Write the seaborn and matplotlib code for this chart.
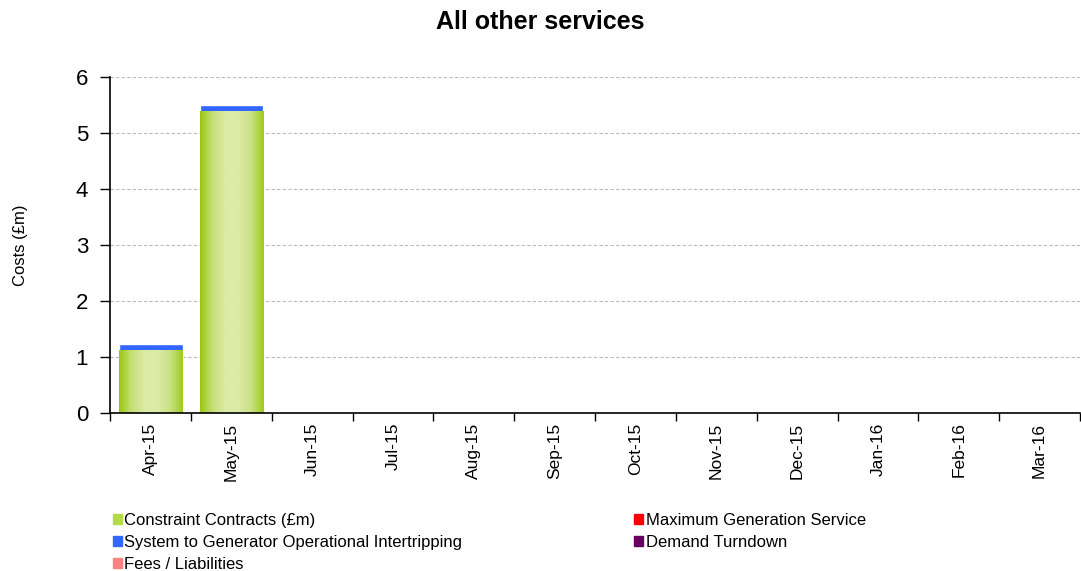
import numpy as np
import pandas as pd
import matplotlib
matplotlib.use("Agg")
import matplotlib.pyplot as plt
import matplotlib.patches as mpatches
from matplotlib.colors import LinearSegmentedColormap
import seaborn as sns

# Data
months = ["Apr-15", "May-15", "Jun-15", "Jul-15", "Aug-15", "Sep-15",
          "Oct-15", "Nov-15", "Dec-15", "Jan-16", "Feb-16", "Mar-16"]
constraint_contracts = [1.13, 5.39, 0, 0, 0, 0, 0, 0, 0, 0, 0, 0]
intertripping = [0.10, 0.11, 0, 0, 0, 0, 0, 0, 0, 0, 0, 0]
max_generation = [0] * 12
demand_turndown = [0] * 12
fees_liabilities = [0] * 12

df = pd.DataFrame({"month": months,
                   "constraint": constraint_contracts,
                   "intertrip": intertripping})
df["total"] = df["constraint"] + df["intertrip"]

#Setting styles
sns.set_style("white")
plt.rcParams["font.family"] = ["Liberation Sans", "DejaVu Sans"]
plt.rcParams["text.color"] = "black"
plt.rcParams["axes.labelcolor"] = "black"
plt.rcParams["xtick.color"] = "black"
plt.rcParams["ytick.color"] = "black"

fig = plt.figure(figsize=(10.81, 5.71), dpi=100)
ax = fig.add_axes([0.102, 0.277, 0.897, 0.588])

#Stacked bars: total (blue) underneath, constraint (green) on top
sns.barplot(data=df, x="month", y="total", color="#3366ff", saturation=1,
            width=0.79, ax=ax, order=months)
n_before = len(ax.patches)
sns.barplot(data=df, x="month", y="constraint", color="#9bc916", saturation=1,
            width=0.79, ax=ax, order=months)

#Gradient fill for the green bars
grad = LinearSegmentedColormap.from_list(
    "g", ["#97c70f", "#c6e07a", "#dceba6", "#dceba6", "#c9e184", "#9ccb1c"])
for p in ax.patches[n_before:]:
    h = p.get_height()
    if h <= 0:
        continue
    x0 = p.get_x()
    w = p.get_width()
    im = ax.imshow(np.linspace(0, 1, 256).reshape(1, -1), cmap=grad,
                   extent=[x0, x0 + w, 0, h], aspect="auto", zorder=p.get_zorder() + 0.1)
    im.set_clip_path(p)
    p.set_edgecolor("none")

ax.set_xlim(-0.5, 11.5)
ax.set_ylim(0, 6)
ax.set_yticks(range(0, 7))
ax.tick_params(axis="y", left=True, labelsize=16, length=7, width=1, direction="out", pad=9)
ax.tick_params(axis="x", which="major", bottom=True, labelsize=12.5, length=0, rotation=90, pad=7)
ax.set_xticks(np.arange(-0.5, 12, 1), minor=True)
ax.tick_params(axis="x", which="minor", bottom=True, length=6, width=1, direction="out")
ax.yaxis.grid(True, linestyle=(0, (3, 2)), color="#bbbbbb", linewidth=0.8)
ax.set_axisbelow(True)
for s in ["top", "right"]:
    ax.spines[s].set_visible(False)
for s in ["left", "bottom"]:
    ax.spines[s].set_color("black")
    ax.spines[s].set_linewidth(1.2)

ax.set_xlabel("")
ax.set_ylabel("Costs (£m)", fontsize=12)
ax.yaxis.set_label_coords(-0.085, 0.5)
fig.suptitle("All other services", fontsize=18, fontweight="bold", y=0.983)

#Legend
handles = [mpatches.Patch(color="#b5d94a", label="Constraint Contracts (£m)"),
           mpatches.Patch(color="#3366ff", label="System to Generator Operational Intertripping"),
           mpatches.Patch(color="#ff8080", label="Fees / Liabilities"),
           mpatches.Patch(color="#ff0000", label="Maximum Generation Service"),
           mpatches.Patch(color="#660066", label="Demand Turndown")]
fig.legend(handles=handles, ncol=2, loc="upper left", bbox_to_anchor=(0.098, 0.1135),
           frameon=False, fontsize=12, handlelength=0.55, handleheight=0.55,
           handletextpad=0.15, labelspacing=0.42, columnspacing=10.3, borderaxespad=0)

fig.savefig("out.png", dpi=100)
